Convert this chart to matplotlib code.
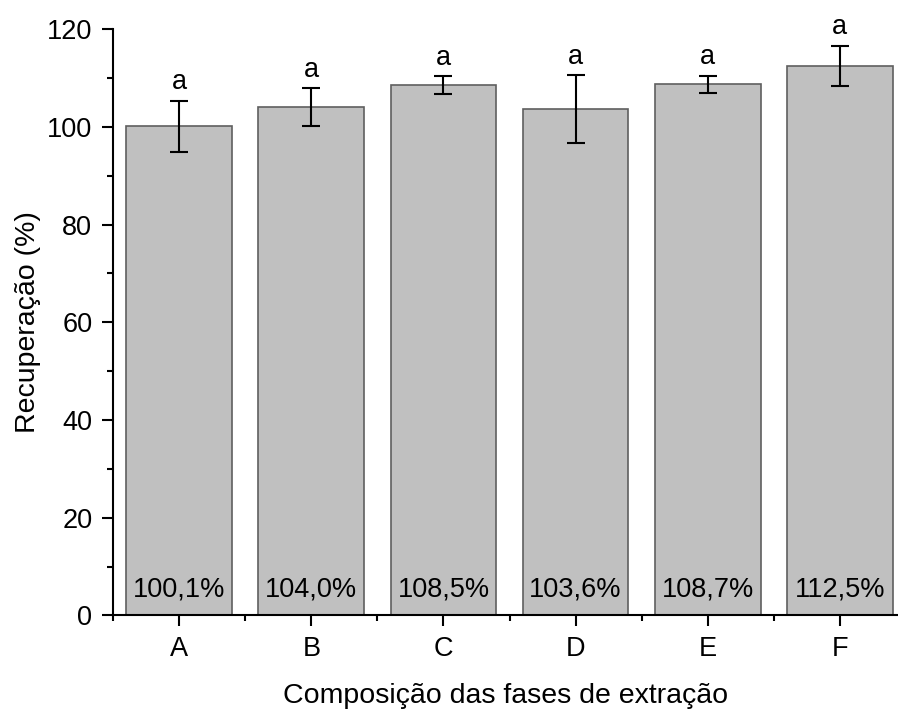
import numpy as np
import matplotlib.pyplot as plt
from matplotlib.ticker import MultipleLocator

plt.rcParams['font.family'] = ['Liberation Sans', 'DejaVu Sans']
plt.rcParams['font.size'] = 19.5

# Recovery per extraction phase composition
fases = ['A', 'B', 'C', 'D', 'E', 'F']
recuperacao = [100.1, 104.0, 108.5, 103.6, 108.7, 112.5]
desvio = [5.2, 3.85, 1.8, 6.9, 1.75, 4.05]
grupos = ['a', 'a', 'a', 'a', 'a', 'a']
rotulos = ['100,1%', '104,0%', '108,5%', '103,6%', '108,7%', '112,5%']

x = np.arange(len(fases))

fig = plt.figure(figsize=(8.98, 7.09), dpi=100)
ax = fig.add_axes([0.126, 0.132, 0.874, 0.827])

ax.bar(x, recuperacao, width=0.8, color='#c0c0c0', edgecolor='#5f5f5f', linewidth=1.2, zorder=2)
ax.errorbar(x, recuperacao, yerr=desvio, fmt='none', ecolor='black',
            elinewidth=1.5, capsize=6.5, capthick=1.5, zorder=3)

# significance letters above error bars, values at the bottom of the bars
for xi, v, e, g, r in zip(x, recuperacao, desvio, grupos, rotulos):
    ax.text(xi, v + e + 2.4, g, ha='center', va='baseline')
    ax.text(xi, 3.9, r, ha='center', va='baseline')

ax.set_xlim(-0.5, 5.44)
ax.set_ylim(0, 120)
ax.set_xticks(x)
ax.set_xticklabels(fases)
ax.xaxis.set_minor_locator(MultipleLocator(1, offset=0.5))
ax.yaxis.set_major_locator(MultipleLocator(20))
ax.yaxis.set_minor_locator(MultipleLocator(10))

ax.tick_params(which='major', direction='out', length=8, width=1.5, pad=7)
ax.tick_params(which='minor', direction='out', length=4.5, width=1.5)

for s in ['top', 'right']:
    ax.spines[s].set_visible(False)
for s in ['left', 'bottom']:
    ax.spines[s].set_linewidth(1.5)

ax.set_xlabel('Composição das fases de extração', fontsize=20.5, labelpad=15)
ax.set_ylabel('Recuperação (%)', fontsize=20.5, labelpad=4)

plt.savefig('out.png', dpi=100)
